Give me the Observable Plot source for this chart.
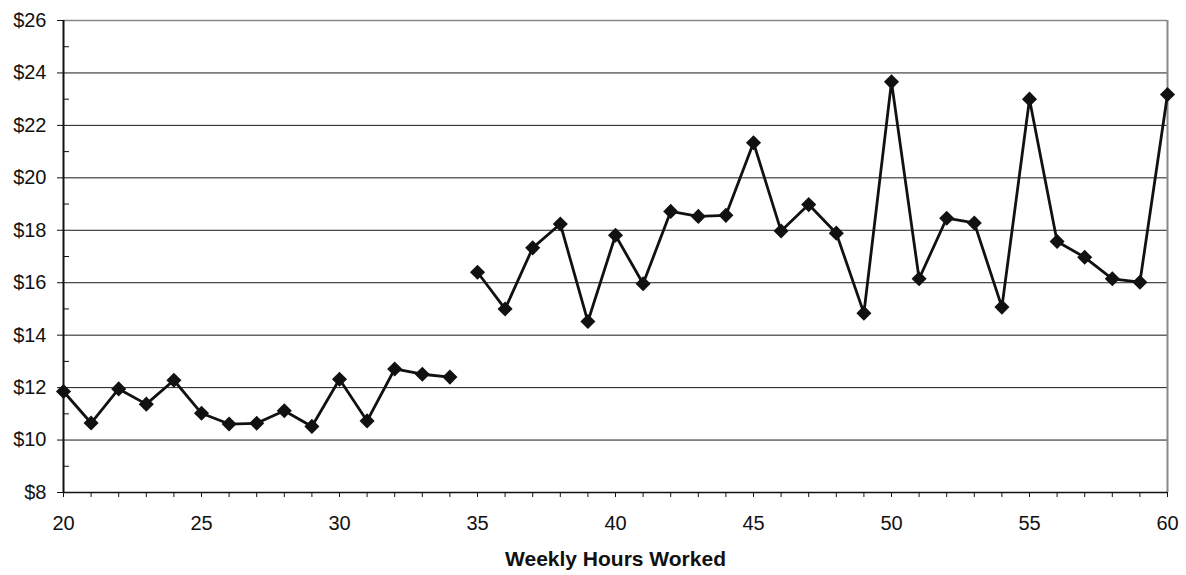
<!DOCTYPE html>
<html>
<head>
<meta charset="utf-8">
<script src="https://cdn.jsdelivr.net/npm/d3@7"></script>
<script src="https://cdn.jsdelivr.net/npm/@observablehq/plot@0.6"></script>
<style>
  html, body { margin: 0; padding: 0; background: #fff; }
  #chart { width: 1186px; height: 575px; }
</style>
</head>
<body>
<div id="chart"></div>
<script>
// Part-time segment (hours 20–34)
const hoursA = [20, 21, 22, 23, 24, 25, 26, 27, 28, 29, 30, 31, 32, 33, 34];
const wagesA = [11.85, 10.65, 11.95, 11.37, 12.28, 11.02, 10.61, 10.64, 11.12, 10.52, 12.32, 10.73, 12.71, 12.51, 12.40];
// Full-time segment (hours 35–60)
const hoursB = [35, 36, 37, 38, 39, 40, 41, 42, 43, 44, 45, 46, 47, 48, 49, 50, 51, 52, 53, 54, 55, 56, 57, 58, 59, 60];
const wagesB = [16.40, 15.00, 17.33, 18.24, 14.52, 17.81, 15.96, 18.72, 18.53, 18.57, 21.34, 17.97, 18.98, 17.89, 14.84, 23.66, 16.15, 18.46, 18.28, 15.07, 23.00, 17.57, 16.97, 16.15, 16.02, 23.18];

const yMajor = [8, 10, 12, 14, 16, 18, 20, 22, 24, 26];
const yMinor = [9, 11, 13, 15, 17, 19, 21, 23, 25];
const yGrid = [10, 12, 14, 16, 18, 20, 22, 24];
const xMajor = [20, 25, 30, 35, 40, 45, 50, 55, 60];
const xMinor = d3.range(20, 61);
const xTitle = "Weekly Hours Worked";

const segA = hoursA.map((h, i) => ({hours: h, wage: wagesA[i]}));
const segB = hoursB.map((h, i) => ({hours: h, wage: wagesB[i]}));
const all = segA.concat(segB);

const FONT = "'Liberation Sans', Arial, sans-serif";

const chart = Plot.plot({
  width: 1186,
  height: 575,
  marginLeft: 63,
  marginRight: 19,
  marginTop: 20,
  marginBottom: 83,
  style: {fontFamily: FONT, fontSize: "20px", color: "#111", background: "#fff"},
  x: {domain: [20, 60]},
  y: {domain: [8, 26]},
  marks: [
    Plot.gridY(yGrid, {stroke: "#1a1a1a", strokeOpacity: 1, strokeWidth: 1}),
    Plot.ruleY([26], {stroke: "#888", strokeWidth: 1.6}),
    Plot.ruleX([60], {stroke: "#888", strokeWidth: 2}),
    Plot.axisY(yMajor, {tickSize: 6, tickPadding: 11, tickFormat: d => "$" + d, fontSize: 20, stroke: "#111", fill: "#111", label: null}),
    Plot.axisY(yMinor, {tickSize: -6, text: null, stroke: "#111", label: null}),
    Plot.axisX(xMinor, {tickSize: 5, text: null, stroke: "#111", label: null}),
    Plot.axisX(xMajor, {tickSize: 5, tickPadding: 18, fontSize: 20, stroke: "#111", fill: "#111", label: null}),
    Plot.ruleY([8], {stroke: "#111", strokeWidth: 1.6}),
    Plot.ruleX([20], {stroke: "#111", strokeWidth: 2}),
    Plot.lineY(segA, {x: "hours", y: "wage", stroke: "#111", strokeWidth: 2.8}),
    Plot.lineY(segB, {x: "hours", y: "wage", stroke: "#111", strokeWidth: 2.8}),
    Plot.dot(all, {x: "hours", y: "wage", symbol: "diamond2", r: 6.8, fill: "#111", stroke: "none"}),
    Plot.text([xTitle], {frameAnchor: "bottom", dy: 73, text: d => d, fontSize: 21, fontWeight: "bold", fill: "#111", fontFamily: FONT})
  ]
});
document.getElementById("chart").appendChild(chart);
</script>
</body>
</html>
